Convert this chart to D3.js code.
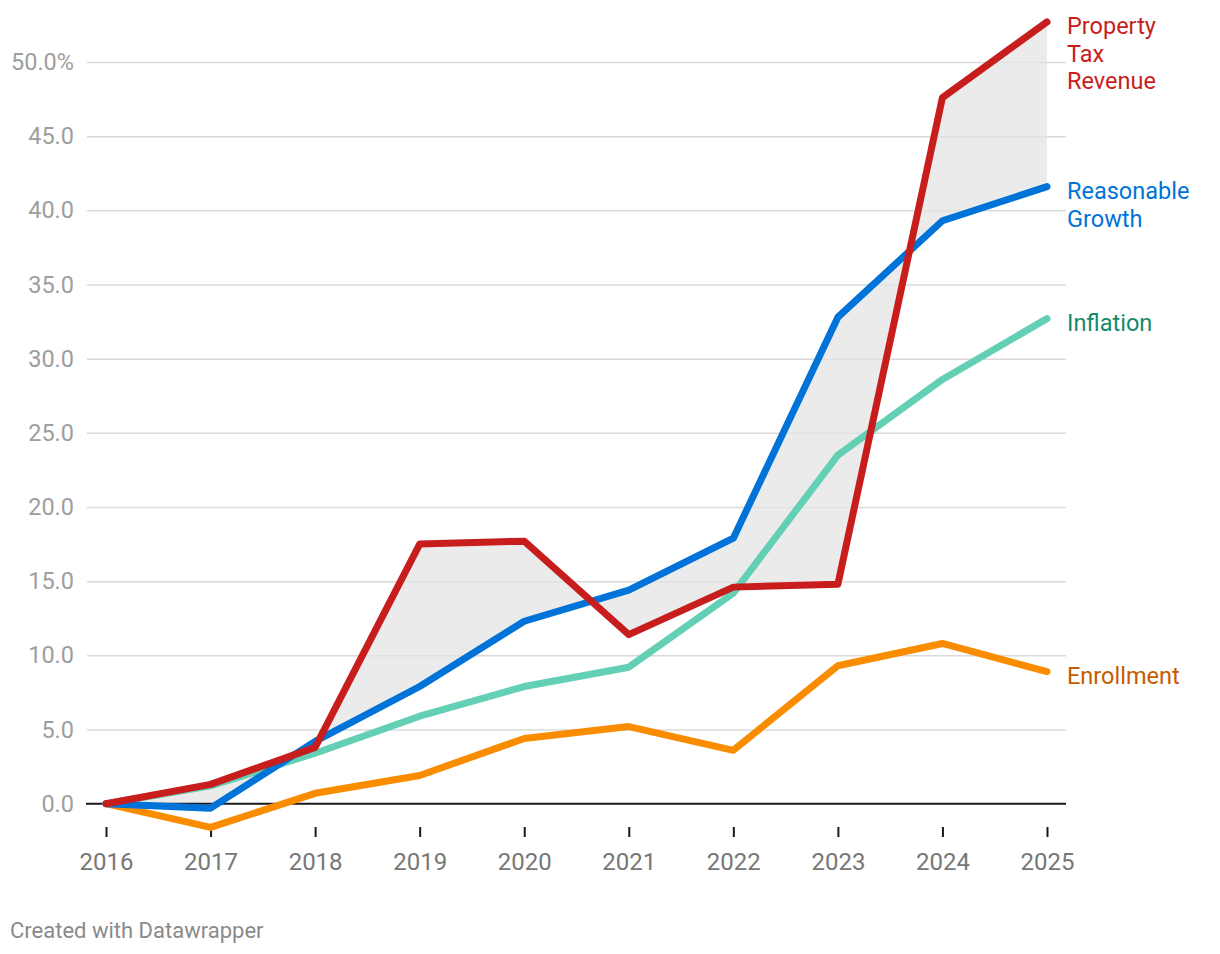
<!DOCTYPE html>
<html><head><meta charset="utf-8">
<script src="https://cdn.jsdelivr.net/npm/d3@7"></script>
<style>
body{margin:0;background:#fff;font-family:Roboto,"Noto Sans",sans-serif;}
svg{display:block}
</style></head>
<body>
<svg id="chart" width="1220" height="954"></svg>
<script>
const years = [2016,2017,2018,2019,2020,2021,2022,2023,2024,2025];
const propertyTax = [0,1.3,3.8,17.5,17.7,11.4,14.6,14.8,47.6,52.7];
const reasonableGrowth = [0,-0.3,4.2,7.9,12.3,14.4,17.9,32.8,39.3,41.6];
const inflation = [0,1.2,3.4,5.9,7.9,9.2,14.2,23.5,28.6,32.7];
const enrollment = [0,-1.6,0.7,1.9,4.4,5.2,3.6,9.3,10.8,8.9];
const yTicks = [0,5,10,15,20,25,30,35,40,45,50];

const series = [
  {name:["Enrollment"], values:enrollment, color:"#fa8c00", label:"#c45c00"},
  {name:["Inflation"], values:inflation, color:"#63d0b5", label:"#138a6d"},
  {name:["Reasonable","Growth"], values:reasonableGrowth, color:"#0073d9", label:"#0073d9"},
  {name:["Property","Tax","Revenue"], values:propertyTax, color:"#c71e1d", label:"#c71e1d"}
];

const svg = d3.select("#chart");
const x = d3.scaleLinear().domain([2016,2025]).range([106,1047]);
const y = d3.scaleLinear().domain([0,50]).range([803.7,62]);

// gridlines
const grid = d3.axisLeft(y).tickValues(yTicks.filter(d=>d!==0)).tickSize(-(1066-87)).tickFormat("");
svg.append("g").attr("transform","translate(87,0)").call(grid)
  .call(g=>g.select(".domain").remove())
  .call(g=>g.selectAll("line").attr("stroke","#e3e3e3").attr("stroke-width",1.5));

// y labels
svg.append("g").selectAll("text").data(yTicks).join("text")
  .attr("x",74).attr("y",d=>y(d)+8)
  .attr("text-anchor","end").attr("fill","#9e9e9e")
  .style("font-size","23.5px")
  .text(d=> d===50 ? d.toFixed(1)+"%" : d.toFixed(1));

// area between property tax and reasonable growth
const area = d3.area().x((d,i)=>x(years[i])).y0((d,i)=>y(reasonableGrowth[i])).y1(d=>y(d));
svg.append("path").datum(propertyTax).attr("d",area).attr("fill","#ebebeb");

// gridlines faintly over the area
svg.append("g").attr("transform","translate(87,0)").call(grid)
  .call(g=>g.select(".domain").remove())
  .call(g=>g.selectAll("line").attr("stroke","#000").attr("stroke-opacity",0.04).attr("stroke-width",1.5));

// zero baseline
svg.append("line").attr("x1",86).attr("x2",1066).attr("y1",y(0)).attr("y2",y(0))
  .attr("stroke","#1a1a1a").attr("stroke-width",2);

// x axis ticks and labels
const xAxis = d3.axisBottom(x).tickValues(years).tickFormat(d3.format("d")).tickSize(10).tickPadding(16);
svg.append("g").attr("transform","translate(0,827)").call(xAxis)
  .call(g=>g.select(".domain").remove())
  .call(g=>g.selectAll("line").attr("stroke","#1a1a1a").attr("stroke-width",2))
  .call(g=>g.selectAll("text").attr("fill","#777").style("font-size","24px").style("font-family","Roboto"));

// lines
const line = d3.line().x((d,i)=>x(years[i])).y(d=>y(d));
svg.append("g").selectAll("path").data(series).join("path")
  .attr("d",d=>line(d.values)).attr("fill","none")
  .attr("stroke",d=>d.color).attr("stroke-width",7)
  .attr("stroke-linejoin","round").attr("stroke-linecap","round");

// end labels
const lab = svg.append("g").selectAll("text").data(series).join("text")
  .attr("x",1067).attr("y",d=>y(d.values[d.values.length-1])+12.5)
  .attr("fill",d=>d.label).style("font-size","23.5px");
lab.each(function(d){
  const t=d3.select(this);
  d.name.forEach((n,i)=>t.append("tspan").attr("x",1067).attr("dy",i?27.5:0).text(n));
});

// footer
svg.append("text").attr("x",10).attr("y",937.5).attr("fill","#8a8a8a")
  .style("font-size","22px").text("Created with Datawrapper");
</script>
</body></html>
